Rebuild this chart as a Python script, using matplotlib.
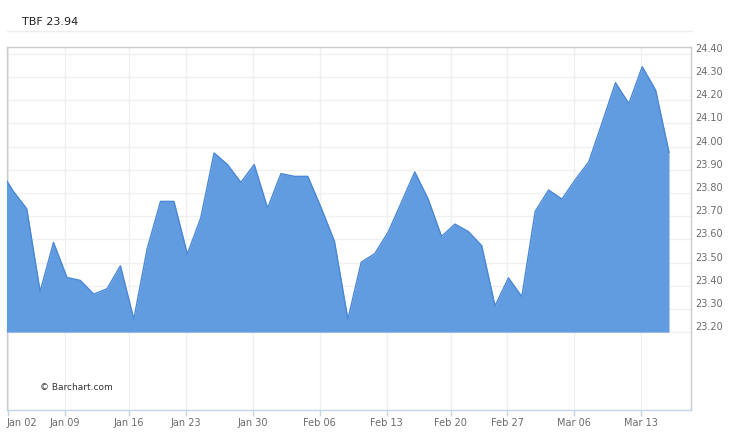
import matplotlib
matplotlib.use("Agg")
import matplotlib.pyplot as plt
from matplotlib.lines import Line2D
from matplotlib.transforms import ScaledTranslation
import numpy as np

# ---- data (trading-day index, Dec 30 2022 .. Mar 15 2023) ----
prices = [23.90, 23.807, 23.732, 23.375, 23.587, 23.436, 23.423, 23.364, 23.387, 23.486,
          23.256, 23.560, 23.764, 23.764, 23.537, 23.692, 23.973, 23.923, 23.846, 23.923,
          23.735, 23.884, 23.872, 23.872, 23.737, 23.591, 23.256, 23.502, 23.538, 23.630,
          23.760, 23.891, 23.774, 23.613, 23.666, 23.634, 23.573, 23.313, 23.434, 23.353,
          23.721, 23.813, 23.774, 23.858, 23.934, 24.103, 24.276, 24.186, 24.345, 24.244,
          23.976]
date_labels = ["Jan 02", "Jan 09", "Jan 16", "Jan 23", "Jan 30", "Feb 06",
               "Feb 13", "Feb 20", "Feb 27", "Mar 06", "Mar 13"]
date_tick_pos = [0.6, 4.86, 9.64, 13.9, 18.9, 23.9, 28.9, 33.7, 37.9, 42.9, 47.9]
price_ticks = [23.20, 23.30, 23.40, 23.50, 23.60, 23.70, 23.80, 23.90,
               24.00, 24.10, 24.20, 24.30, 24.40]
symbol = "TBF"
last_price = 23.94
baseline = 23.20

W, H = 750, 433
fig = plt.figure(figsize=(W / 100, H / 100), dpi=100)
fig.patch.set_facecolor("white")

L, R, T, B = 7, 691, 47, 410
ax = fig.add_axes([L / W, 1 - B / H, (R - L) / W, (B - T) / H])
ax.set_facecolor("white")

x = np.arange(len(prices))
ax.fill_between(x, prices, baseline, color="#619be0", linewidth=0, zorder=3)
ax.plot(x, prices, color="#4a88d6", linewidth=1.0, zorder=4)

ax.set_xlim(7 / 13.38, 691 / 13.38)
ax.set_ylim(22.864, 24.43)

# grid
for p in price_ticks:
    ax.axhline(p, color="#f0f0f0", linewidth=1, zorder=1)
for p in date_tick_pos:
    ax.axvline(p, color="#edf0f3", linewidth=1, zorder=1)

# y axis on right
ax.yaxis.tick_right()
ax.set_yticks(price_ticks)
ax.set_yticklabels([f"{p:.2f}" for p in price_ticks])
ax.tick_params(axis="y", length=0, pad=3, labelsize=7, labelcolor="#6b6b6b")
off = ScaledTranslation(0, 6 / 100, fig.dpi_scale_trans)
for lab in ax.get_yticklabels():
    lab.set_transform(lab.get_transform() + off)

ax.set_xticks(date_tick_pos)
ax.set_xticklabels(date_labels)
ax.tick_params(axis="x", length=4, width=1, color="#c5d5e5", pad=1.5,
               labelsize=7, labelcolor="#6b6b6b")
first = ax.get_xticklabels()[0]
first.set_horizontalalignment("left")
first.set_transform(first.get_transform() +
                    ScaledTranslation(-2 / 100, 0, fig.dpi_scale_trans))

for s in ["left", "right", "top"]:
    ax.spines[s].set_color("#cccccc")
    ax.spines[s].set_linewidth(1)
ax.spines["bottom"].set_color("#c5d5e5")
ax.spines["bottom"].set_linewidth(1)

# header
fig.add_artist(Line2D([7 / W, 692 / W], [1 - 31 / H, 1 - 31 / H],
                      color="#eeeeee", linewidth=1))
fig.text(22 / W, 1 - 22 / H, f"{symbol} {last_price:.2f}", fontsize=8,
         color="#222222", va="center", ha="left")
fig.text(40 / W, 1 - 387 / H, "\u00a9 Barchart.com", fontsize=6.5,
         color="#333333", va="center", ha="left")

fig.savefig("out.png", dpi=100)
